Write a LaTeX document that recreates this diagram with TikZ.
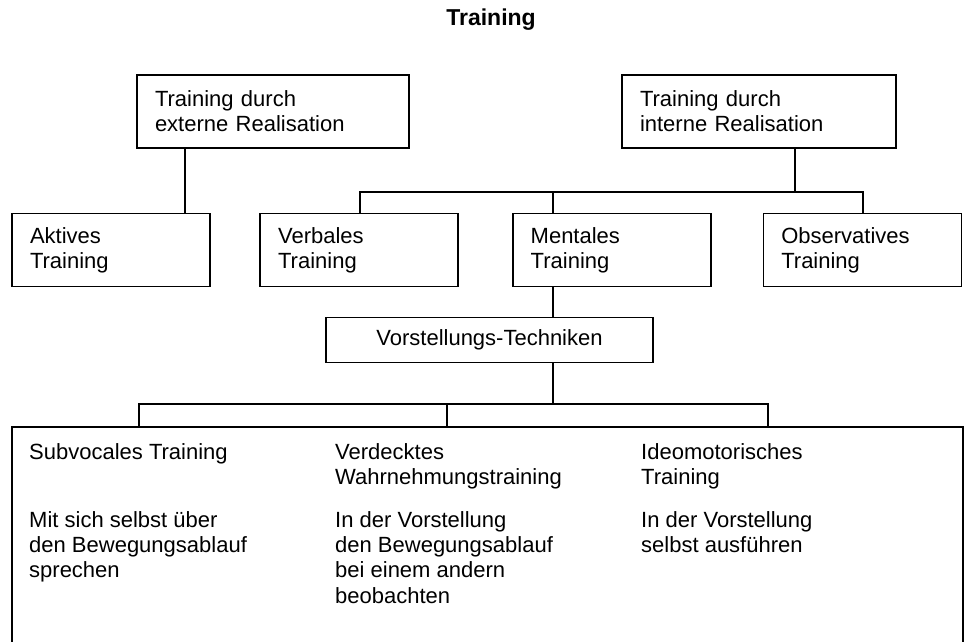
\documentclass[tikz,border=0pt]{standalone}
\usepackage{fontspec}
\setmainfont{Liberation Sans}
\usetikzlibrary{positioning}

\begin{document}
\begin{tikzpicture}[
  x=1pt, y=-1pt,
  node distance=51pt,
  box/.style={draw, line width=1.6pt, align=left, inner xsep=18pt, inner ysep=0pt,
    minimum height=73pt, font=\fontsize{22}{25}\selectfont},
  vbox/.style={draw, line width=1.6pt, align=center, inner sep=0pt,
    minimum width=327pt, minimum height=45pt, font=\fontsize{22}{25}\selectfont},
  txt/.style={anchor=north west, align=left, inner sep=0pt,
    font=\fontsize{22}{25.3}\selectfont},
  link/.style={line width=1.6pt}
]

\useasboundingbox (0,0) rectangle (968,641);
\clip (0,0) rectangle (968,641);

% Title
\node[font=\fontsize{23}{25}\selectfont\bfseries] (title) at (491,20) {Training};

% Kinds of realisation
\node[box, text width=236pt] (ext) at (273,111.5) {Training durch\\externe Realisation};
\node[box, text width=238pt] (int) at (759,111.5) {Training durch\\interne Realisation};

% Forms of training
\node[box, text width=162pt] (akt) at (111,250) {Aktives\\Training};
\node[box, text width=162pt, right=48.5pt of akt] (verb) {Verbales\\Training};
\node[box, text width=162pt, right=53pt of verb] (ment) {Mentales\\Training};
\node[box, text width=162pt, right=of ment] (obs) {Observatives\\Training};

% Techniques
\node[vbox] (vor) at (489.5,340) {Vorstellungs-Techniken};
\node[draw, line width=1.6pt, minimum width=951pt, minimum height=273pt] (big) at (487.5,563.5) {};

\node[txt] (sub) at (29,443) {Subvocales Training};
\node[txt] (verd) at (335,443) {Verdecktes\\Wahrnehmungstraining};
\node[txt] (ideo) at (641,443) {Ideomotorisches\\Training};
\node[txt] (subd) at (29,511) {Mit sich selbst über\\den Bewegungsablauf\\sprechen};
\node[txt] (verdd) at (335,511) {In der Vorstellung\\den Bewegungsablauf\\bei einem andern\\beobachten};
\node[txt] (ideod) at (641,511) {In der Vorstellung\\selbst ausführen};

% Junctions
\coordinate (xa) at (185,0);
\coordinate (b1) at (795,192);
\coordinate (bv) at (360,192);
\coordinate (bm) at (553,192);
\coordinate (bo) at (863,192);
\coordinate (b2) at (553,404);
\coordinate (bs) at (139,404);
\coordinate (bw) at (447,404);
\coordinate (bi) at (768,404);

% Lines
\draw[link] (ext.south -| xa) -- (akt.north -| xa);
\draw[link] (int.south -| b1) -- (b1);
\draw[link] (verb.north -| bv) -- (bv) -- (bo) -- (obs.north -| bo);
\draw[link] (bm) -- (ment.north -| bm);
\draw[link] (ment.south -| bm) -- (vor.north -| bm);
\draw[link] (vor.south -| b2) -- (b2);
\draw[link] (big.north -| bs) -- (bs) -- (bi) -- (big.north -| bi);
\draw[link] (bw) -- (big.north -| bw);

\end{tikzpicture}
\end{document}
